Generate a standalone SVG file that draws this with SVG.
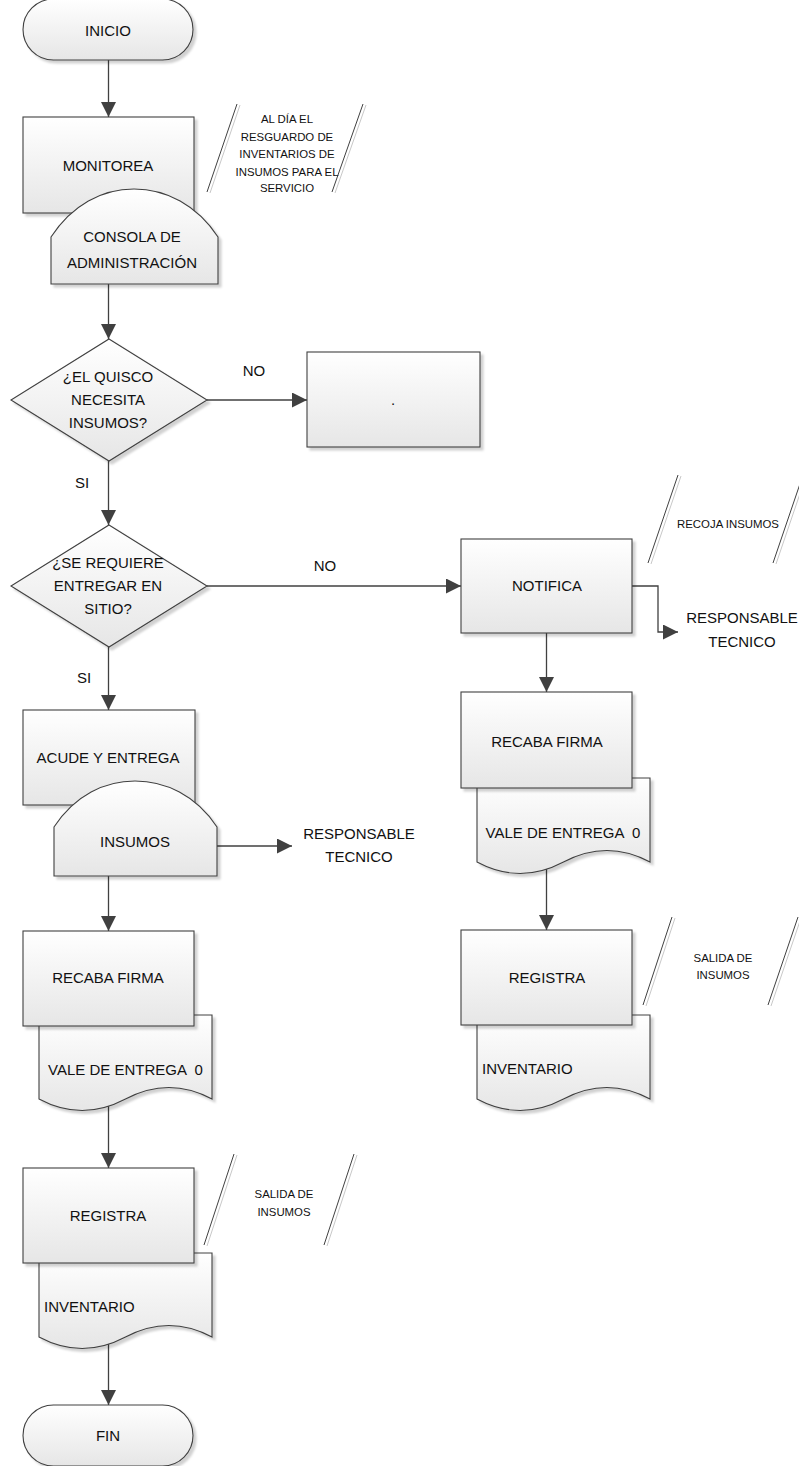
<svg xmlns="http://www.w3.org/2000/svg" width="799" height="1466" viewBox="0 0 799 1466">
<style>
.sh{fill:url(#g);stroke:#404040;stroke-width:1.1;filter:url(#ds)}
.t{font-family:"Liberation Sans",Arial,sans-serif;font-size:15px;fill:#111;text-anchor:middle}
.tl{font-family:"Liberation Sans",Arial,sans-serif;font-size:15px;fill:#111}
.s{font-family:"Liberation Sans",Arial,sans-serif;font-size:11.4px;fill:#111;text-anchor:middle}
.pre{white-space:pre}
.c{fill:none;stroke:#404040;stroke-width:1.3}
.sl{stroke:#404040;stroke-width:1}
.sl2{stroke:#c8c8c8;stroke-width:1}
</style>
<defs>
<linearGradient id="g" x1="0" y1="0" x2="0" y2="1">
<stop offset="0" stop-color="#ffffff"/>
<stop offset="1" stop-color="#e6e6e6"/>
</linearGradient>
<filter id="ds" x="-10%" y="-10%" width="130%" height="130%">
<feDropShadow dx="3" dy="3" stdDeviation="1.2" flood-color="#000" flood-opacity="0.18"/>
</filter>
<marker id="arr" markerWidth="15" markerHeight="15" refX="15" refY="7.5" orient="auto" markerUnits="userSpaceOnUse">
<path d="M0,0 L15,7.5 L0,15 z" fill="#404040"/>
</marker>
</defs>
<rect width="799" height="1466" fill="#ffffff"/>

<g id="connectors">
<line class="c" x1="108.5" y1="60" x2="108.5" y2="117" marker-end="url(#arr)"/>
<line class="c" x1="108.5" y1="284" x2="108.5" y2="339" marker-end="url(#arr)"/>
<line class="c" x1="207" y1="400" x2="307" y2="400" marker-end="url(#arr)"/>
<line class="c" x1="108.5" y1="461" x2="108.5" y2="525" marker-end="url(#arr)"/>
<line class="c" x1="207" y1="586" x2="461" y2="586" marker-end="url(#arr)"/>
<line class="c" x1="108.5" y1="647" x2="108.5" y2="710" marker-end="url(#arr)"/>
<line class="c" x1="217" y1="846" x2="292" y2="846" marker-end="url(#arr)"/>
<line class="c" x1="108.5" y1="876" x2="108.5" y2="931" marker-end="url(#arr)"/>
<line class="c" x1="108.5" y1="1106" x2="108.5" y2="1168" marker-end="url(#arr)"/>
<line class="c" x1="108.5" y1="1343" x2="108.5" y2="1405" marker-end="url(#arr)"/>
<path class="c" d="M632,586 H658 V632 H678" marker-end="url(#arr)"/>
<line class="c" x1="546.5" y1="633" x2="546.5" y2="692" marker-end="url(#arr)"/>
<line class="c" x1="546.5" y1="868" x2="546.5" y2="930" marker-end="url(#arr)"/>
<text class="t" x="254" y="376">NO</text>
<text class="t" x="82" y="488">SI</text>
<text class="t" x="325" y="571">NO</text>
<text class="t" x="84" y="683">SI</text>
</g>

<g id="inicio">
<rect class="sh" x="23" y="-1" width="170" height="61" rx="30.5"/>
<text class="t" x="108" y="35.5">INICIO</text>
</g>

<g id="monitorea">
<rect class="sh" x="23" y="117" width="171" height="96"/>
<text class="t" x="108" y="171">MONITOREA</text>
</g>

<g id="consola">
<path class="sh" d="M51,284 V237 C72,205 102,189 134,189 C166,189 197,205 218,237 V284 Z"/>
<text class="t" x="132" y="242">CONSOLA DE</text>
<text class="t" x="132" y="268">ADMINISTRACIÓN</text>
</g>

<g id="nota-resguardo">
<line class="sl2" x1="210" y1="193" x2="240" y2="105"/>
<line class="sl" x1="207" y1="192" x2="237" y2="104"/>
<line class="sl2" x1="335" y1="193" x2="366" y2="105"/>
<line class="sl" x1="332" y1="192" x2="363" y2="104"/>
<text class="s" x="287" y="123">AL DÍA EL</text>
<text class="s" x="287" y="141">RESGUARDO DE</text>
<text class="s" x="287" y="158">INVENTARIOS DE</text>
<text class="s" x="287" y="176">INSUMOS PARA EL</text>
<text class="s" x="287" y="192">SERVICIO</text>
</g>

<g id="decision1">
<polygon class="sh" points="109,339 207,400 109,461 11,400"/>
<text class="t" x="108" y="382">¿EL QUISCO</text>
<text class="t" x="108" y="405">NECESITA</text>
<text class="t" x="108" y="428">INSUMOS?</text>
</g>

<g id="punto">
<rect class="sh" x="307" y="352" width="173" height="95"/>
<text class="t" x="393" y="405">.</text>
</g>

<g id="decision2">
<polygon class="sh" points="109,525 207,586 109,647 11,586"/>
<text class="t" x="108" y="568">¿SE REQUIERE</text>
<text class="t" x="108" y="591">ENTREGAR EN</text>
<text class="t" x="108" y="614">SITIO?</text>
</g>

<g id="notifica">
<rect class="sh" x="461" y="539" width="171" height="94"/>
<text class="t" x="547" y="591">NOTIFICA</text>
</g>

<g id="responsable-1">
<text class="t" x="742" y="623">RESPONSABLE</text>
<text class="t" x="742" y="647">TECNICO</text>
</g>

<g id="nota-recoja">
<line class="sl2" x1="651" y1="564" x2="681" y2="476"/>
<line class="sl" x1="648" y1="563" x2="678" y2="475"/>
<line class="sl2" x1="776" y1="564" x2="806" y2="476"/>
<line class="sl" x1="773" y1="563" x2="803" y2="475"/>
<text class="s" x="728" y="528">RECOJA INSUMOS</text>
</g>

<g id="recaba-der">
<path class="sh" d="M477,778 H650 V862 Q607,839 563.5,862 T477,862 Z"/>
<rect class="sh" x="461" y="692" width="171" height="96"/>
<text class="t" x="547" y="747">RECABA FIRMA</text>
<text class="t pre" x="563" y="838" xml:space="preserve">VALE DE ENTREGA  0</text>
</g>

<g id="registra-der">
<path class="sh" d="M477,1015 H650 V1099 Q607,1076 563.5,1099 T477,1099 Z"/>
<rect class="sh" x="461" y="930" width="171" height="95"/>
<text class="t" x="547" y="983">REGISTRA</text>
<text class="tl" x="482" y="1074">INVENTARIO</text>
</g>

<g id="nota-salida-der">
<line class="sl2" x1="646" y1="1006" x2="675" y2="918"/>
<line class="sl" x1="643" y1="1005" x2="672" y2="917"/>
<line class="sl2" x1="771" y1="1006" x2="801" y2="918"/>
<line class="sl" x1="768" y1="1005" x2="798" y2="917"/>
<text class="s" x="723" y="962">SALIDA DE</text>
<text class="s" x="723" y="979">INSUMOS</text>
</g>

<g id="acude">
<rect class="sh" x="23" y="710" width="172" height="95"/>
<text class="t" x="108" y="763">ACUDE Y ENTREGA</text>
</g>

<g id="insumos">
<path class="sh" d="M54,876 V827 C75,795 105,781 135,781 C165,781 196,795 217,827 V876 Z"/>
<text class="t" x="135" y="847">INSUMOS</text>
</g>

<g id="responsable-2">
<text class="t" x="359" y="839">RESPONSABLE</text>
<text class="t" x="359" y="862">TECNICO</text>
</g>

<g id="recaba-izq">
<path class="sh" d="M39,1015 H212 V1099 Q169,1076 125.5,1099 T39,1099 Z"/>
<rect class="sh" x="23" y="931" width="171" height="95"/>
<text class="t" x="108" y="983">RECABA FIRMA</text>
<text class="t pre" x="125.5" y="1075" xml:space="preserve">VALE DE ENTREGA  0</text>
</g>

<g id="registra-izq">
<path class="sh" d="M39,1253 H212 V1337 Q169,1314 125.5,1337 T39,1337 Z"/>
<rect class="sh" x="23" y="1168" width="171" height="95"/>
<text class="t" x="108" y="1221">REGISTRA</text>
<text class="tl" x="44" y="1312">INVENTARIO</text>
</g>

<g id="nota-salida-izq">
<line class="sl2" x1="207" y1="1246" x2="237" y2="1155"/>
<line class="sl" x1="204" y1="1245" x2="234" y2="1154"/>
<line class="sl2" x1="327" y1="1246" x2="357" y2="1155"/>
<line class="sl" x1="324" y1="1245" x2="354" y2="1154"/>
<text class="s" x="284" y="1198">SALIDA DE</text>
<text class="s" x="284" y="1216">INSUMOS</text>
</g>

<g id="fin">
<rect class="sh" x="23" y="1405" width="170" height="61" rx="30.5"/>
<text class="t" x="108" y="1441">FIN</text>
</g>
</svg>
